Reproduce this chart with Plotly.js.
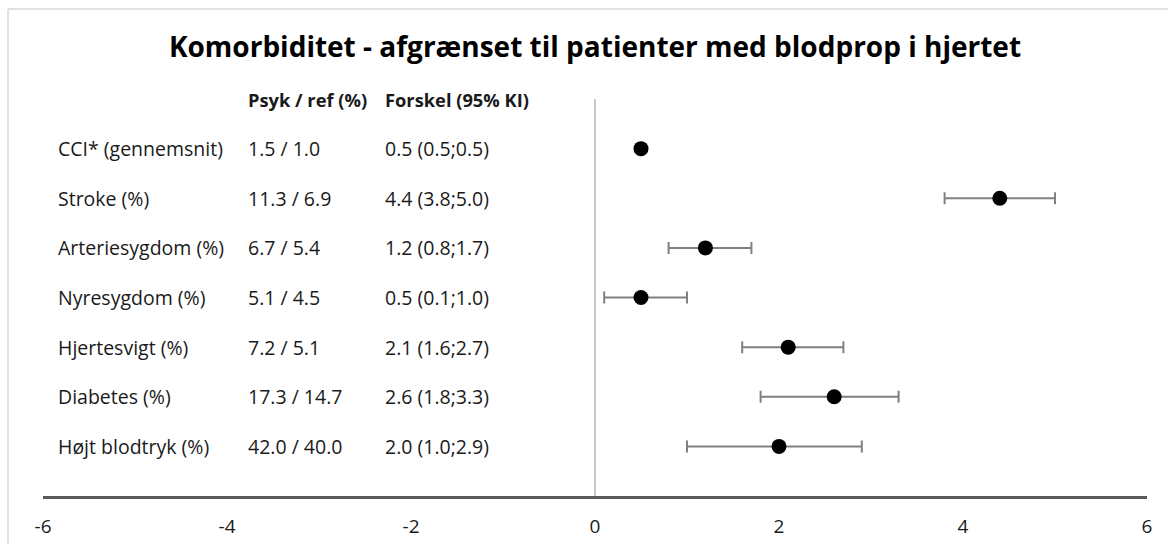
<!DOCTYPE html>
<html>
<head>
<meta charset="utf-8">
<script src="https://cdn.plot.ly/plotly-3.0.1.min.js"></script>
<style>
  html, body { margin: 0; padding: 0; background: #ffffff; }
  #chart { width: 1168px; height: 544px; }
</style>
</head>
<body>
<div id="chart"></div>
<script>
// ---- Data ----
const categories = [
  "CCI* (gennemsnit)",
  "Stroke (%)",
  "Arteriesygdom (%)",
  "Nyresygdom (%)",
  "Hjertesvigt (%)",
  "Diabetes (%)",
  "Højt blodtryk (%)"
];
const psyk = [1.5, 11.3, 6.7, 5.1, 7.2, 17.3, 42.0];
const ref  = [1.0, 6.9, 5.4, 4.5, 5.1, 14.7, 40.0];
const diff = [0.5, 4.4, 1.2, 0.5, 2.1, 2.6, 2.0];
const ciLow  = [0.5, 3.8, 0.8, 0.1, 1.6, 1.8, 1.0];
const ciHigh = [0.5, 5.0, 1.7, 1.0, 2.7, 3.3, 2.9];
const headers = ["Psyk / ref (%)", "Forskel (95% KI)"];
const xTicks = [-6, -4, -2, 0, 2, 4, 6];
const titleText = "Komorbiditet - afgrænset til patienter med blodprop i hjertet";

// ---- Build ----
const rowPos = categories.map((_, i) => i + 1);
const FONT = "'Open Sans', Lato, sans-serif";

const trace = {
  type: "scatter",
  mode: "markers",
  x: diff,
  y: rowPos,
  marker: { color: "#000000", size: 15 },
  error_x: {
    type: "data",
    symmetric: false,
    array: diff.map((d, i) => +(ciHigh[i] - d).toFixed(3)),
    arrayminus: diff.map((d, i) => +(d - ciLow[i]).toFixed(3)),
    color: "#808080",
    thickness: 2,
    width: 6
  },
  hoverinfo: "x",
  showlegend: false
};

// plot area in pixels: x 43..1147, y 99..496
const L = 43, R = 1147, T = 99, B = 496;
const px = v => (v - L) / (R - L);
const py = v => (B - v) / (B - T);

const annotations = [];
const labelFont = { family: FONT, size: 19.5, color: "#1a1a1a" };
const numFont = { family: FONT, size: 19.5, color: "#1a1a1a" };
const headFont = { family: FONT, size: 18.3, color: "#1a1a1a" };
const colX = [56, 246, 383];

categories.forEach((c, i) => {
  annotations.push({ xref: "paper", yref: "y", x: px(colX[0]), y: rowPos[i], text: c,
    showarrow: false, xanchor: "left", yanchor: "middle", font: labelFont });
  annotations.push({ xref: "paper", yref: "y", x: px(colX[1]), y: rowPos[i],
    text: psyk[i].toFixed(1) + " / " + ref[i].toFixed(1),
    showarrow: false, xanchor: "left", yanchor: "middle", font: numFont });
  annotations.push({ xref: "paper", yref: "y", x: px(colX[2]), y: rowPos[i],
    text: diff[i].toFixed(1) + " (" + ciLow[i].toFixed(1) + ";" + ciHigh[i].toFixed(1) + ")",
    showarrow: false, xanchor: "left", yanchor: "middle", font: numFont });
});
headers.forEach((h, j) => {
  annotations.push({ xref: "paper", yref: "y", x: px(colX[j + 1]), y: 0, text: "<b>" + h + "</b>",
    showarrow: false, xanchor: "left", yanchor: "middle", font: headFont });
});

const layout = {
  width: 1168,
  height: 544,
  paper_bgcolor: "#ffffff",
  plot_bgcolor: "#ffffff",
  margin: { l: L, r: 1168 - R, t: T, b: 544 - B, pad: 0 },
  title: {
    text: "<b>" + titleText + "</b>",
    font: { family: FONT, size: 28, color: "#000000" },
    xref: "paper", x: 0.5, xanchor: "center",
    yref: "container", y: 1 - 47 / 544, yanchor: "middle"
  },
  xaxis: {
    range: [-6, 6],
    tickvals: xTicks,
    ticktext: xTicks.map(String),
    showgrid: false,
    zeroline: true,
    zerolinecolor: "#c8c8c8",
    zerolinewidth: 1.5,
    showline: true,
    linecolor: "#5a5a5a",
    linewidth: 3,
    ticks: "",
    ticklabelstandoff: 11,
    tickfont: { family: FONT, size: 19, color: "#1a1a1a" },
    fixedrange: true
  },
  yaxis: {
    range: [8, 0],
    showgrid: false,
    zeroline: false,
    showline: false,
    showticklabels: false,
    ticks: "",
    fixedrange: true
  },
  annotations: annotations,
  shapes: [
    { type: "line", xref: "paper", yref: "paper", x0: px(8), x1: px(8), y0: py(9), y1: py(560),
      line: { color: "#d9d9d9", width: 1.5 } },
    { type: "line", xref: "paper", yref: "paper", x0: px(8), x1: px(1180), y0: py(9), y1: py(9),
      line: { color: "#d9d9d9", width: 1.5 } }
  ]
};

Plotly.newPlot("chart", [trace], layout, { displayModeBar: false, staticPlot: true });
</script>
</body>
</html>
